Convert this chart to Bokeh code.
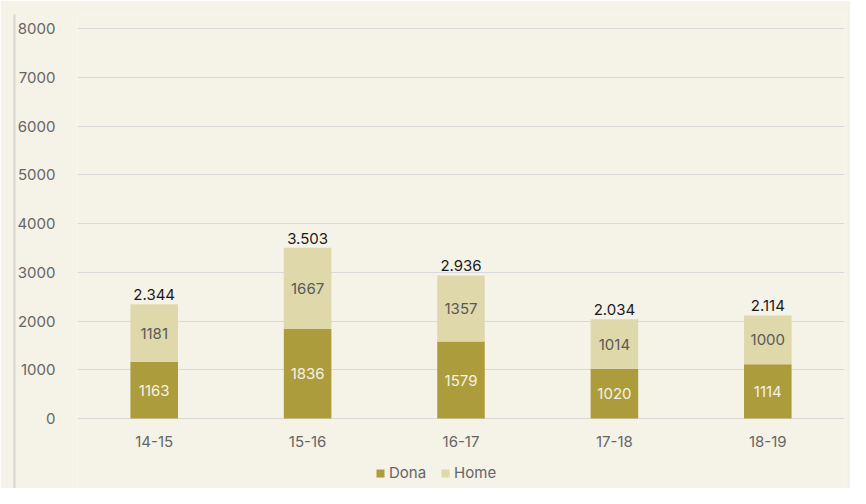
from bokeh.plotting import figure
from bokeh.models import (ColumnDataSource, Legend, LegendItem, FixedTicker,
                          LinearAxis)
from bokeh.core.properties import value
from bokeh.embed import file_html
from bokeh.resources import INLINE

categories = ["14-15", "15-16", "16-17", "17-18", "18-19"]
dona = [1163, 1836, 1579, 1020, 1114]
home = [1181, 1667, 1357, 1014, 1000]
y_ticks = [0, 1000, 2000, 3000, 4000, 5000, 6000, 7000, 8000]

BG = "#f5f2e7"
C_DONA = "#ac9c3c"
C_HOME = "#dfd8ab"
FONT = "Inter"
FS = "15px"

totals = [d + h for d, h in zip(dona, home)]
src = ColumnDataSource(dict(
    cat=categories,
    dona=dona,
    home=home,
    dona_mid=[d / 2 for d in dona],
    home_mid=[d + h / 2 for d, h in zip(dona, home)],
    total=totals,
    dona_txt=[str(v) for v in dona],
    home_txt=[str(v) for v in home],
    total_txt=[f"{v:,}".replace(",", ".") for v in totals],
))

# y range padded so the frame also holds the category labels and the legend
p = figure(x_range=categories, y_range=(-1435, 8287), width=850, height=488,
           output_backend="svg", toolbar_location=None,
           min_border_left=77, min_border_right=6, min_border_top=14,
           min_border_bottom=0)
p.background_fill_color = BG
p.border_fill_color = BG
p.outline_line_color = None

rs = p.vbar_stack(["dona", "home"], x="cat", width=0.31, source=src,
                  color=[C_DONA, C_HOME], line_color=None)

p.text(x="cat", y="dona_mid", text="dona_txt", source=src,
       text_align="center", text_baseline="middle", text_color="#f5f2e7",
       text_font=value(FONT), text_font_size=FS)
p.text(x="cat", y="home_mid", text="home_txt", source=src,
       text_align="center", text_baseline="middle", text_color="#595959",
       text_font=value(FONT), text_font_size=FS)
p.text(x="cat", y="total", text="total_txt", source=src, y_offset=-4,
       text_align="center", text_baseline="bottom", text_color="#1a1a1a",
       text_font=value(FONT), text_font_size=FS)

yax = p.yaxis[0]
yax.ticker = FixedTicker(ticks=y_ticks)
yax.axis_line_color = None
yax.major_tick_line_color = None
yax.minor_tick_line_color = None
yax.major_label_standoff = 16
yax.major_label_text_font = FONT
yax.major_label_text_font_size = FS
yax.major_label_text_color = "#666666"

xax = p.xaxis[0]
xax.fixed_location = 0
xax.axis_line_color = None
xax.major_tick_line_color = None
xax.major_label_standoff = 11
xax.major_label_text_font = FONT
xax.major_label_text_font_size = FS
xax.major_label_text_color = "#666666"

p.xgrid.grid_line_color = None
p.ygrid.grid_line_color = "#d9d9d9"

# thin vertical rule at the far left of the chart
rule = LinearAxis(ticker=FixedTicker(ticks=[]), axis_line_color="#d8d5cc",
                  axis_line_width=2, major_tick_line_color=None,
                  minor_tick_line_color=None, major_label_text_font_size="0px")
p.add_layout(rule, "left")

legend = Legend(items=[LegendItem(label="Dona", renderers=[rs[0]]),
                       LegendItem(label="Home", renderers=[rs[1]])],
                orientation="horizontal", location=(298, 6),
                background_fill_alpha=0, border_line_color=None,
                glyph_width=10, glyph_height=10, label_standoff=4,
                spacing=14, padding=0, margin=0,
                label_text_font=FONT, label_text_font_size=FS,
                label_text_color="#666666")
p.add_layout(legend)

open("out.html", "w").write(file_html(p, INLINE))
